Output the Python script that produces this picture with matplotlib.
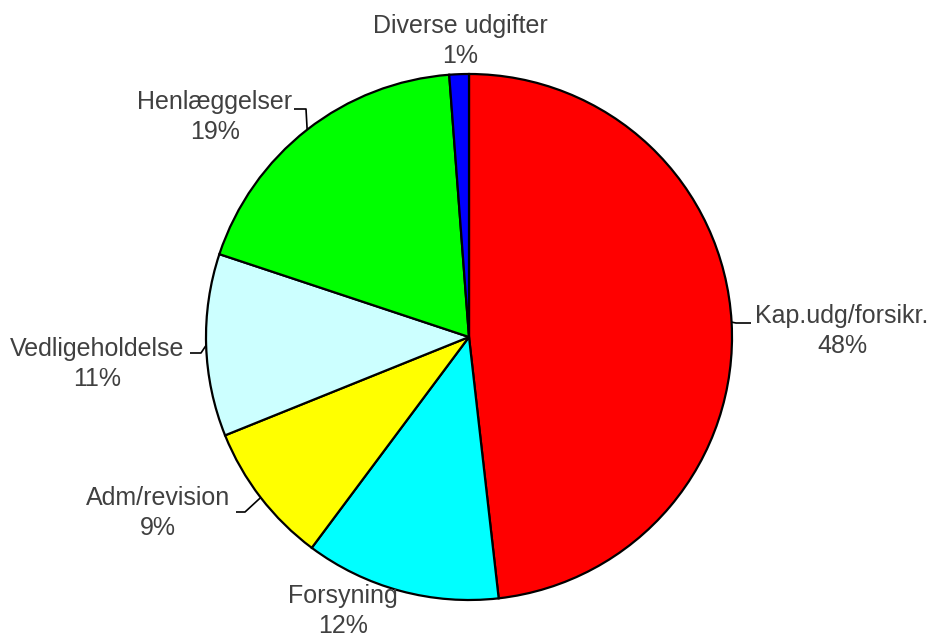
import numpy as np
import matplotlib
matplotlib.use("Agg")
import matplotlib.pyplot as plt

# Data
categories = ["Kap.udg/forsikr.", "Forsyning", "Adm/revision", "Vedligeholdelse", "Henlæggelser", "Diverse udgifter"]
values = [48.2, 12.0, 8.7, 11.2, 18.7, 1.2]
pct_labels = ["48%", "12%", "9%", "11%", "19%", "1%"]
colors = ["#FF0000", "#00FFFF", "#FFFF00", "#CCFFFF", "#00FF00", "#0000FF"]

W, H = 932, 637
fig = plt.figure(figsize=(W / 100, H / 100), dpi=100)
ax = fig.add_axes([0, 0, 1, 1])

cx, cy, R = 469, H - 337, 263
wedges, _ = ax.pie(values, colors=colors, startangle=90, counterclock=False,
                   radius=R, center=(cx, cy), frame=True,
                   wedgeprops=dict(edgecolor="black", linewidth=1.6))
ax.set_xlim(0, W)
ax.set_ylim(0, H)
ax.set_aspect("equal")
ax.axis("off")

# label layout (pixel coordinates of text centre; leader: (elbow_x, line_y, end_x) or None)
label_pos = [(842, 331), (343, 611), (158, 513), (97, 364), (215, 117), (460, 41)]
leaders = [(736, 323, 751), None, (245, 512, 236), (201, 353, 190), (306, 109, 294), None]

for w, name, pct, (px, py), ld in zip(wedges, categories, pct_labels, label_pos, leaders):
    ax.text(px, H - py, f"{name}\n{pct}", ha="center", va="center", fontsize=18,
            color="#404040", family=["Liberation Sans", "DejaVu Sans"], linespacing=1.3)
    if ld is not None:
        mid = np.deg2rad((w.theta1 + w.theta2) / 2)
        ax_, ay_ = cx + R * np.cos(mid), cy + R * np.sin(mid)
        ex, ly, tx = ld
        ax.plot([ax_, ex, tx], [ay_, H - ly, H - ly], color="black", lw=1.2,
                solid_capstyle="butt", zorder=0.5)

fig.savefig("out.png", dpi=100, facecolor="white")
